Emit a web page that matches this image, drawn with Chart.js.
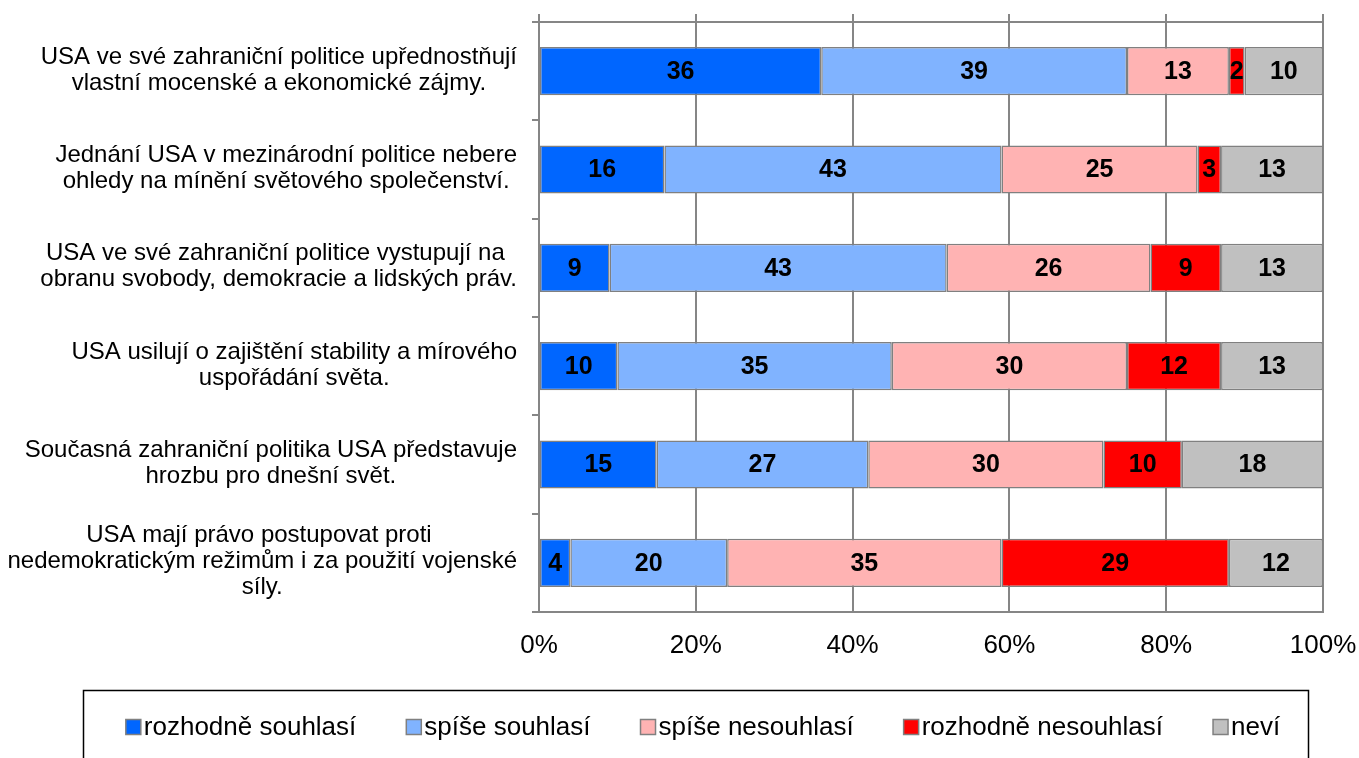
<!DOCTYPE html>
<html>
<head>
<meta charset="utf-8">
<script src="https://cdn.jsdelivr.net/npm/chart.js@4"></script>
<style>
  html, body { margin: 0; padding: 0; background: #fff; }
  canvas { display: block; }
</style>
</head>
<body>
<canvas id="chart" width="1359" height="758"></canvas>
<script>
// question texts, one array of lines per bar
const questions = [
  ["USA ve své zahraniční politice upřednostňují", "vlastní mocenské a ekonomické zájmy."],
  ["Jednání USA v mezinárodní politice nebere", "ohledy na mínění světového společenství."],
  ["USA ve své zahraniční politice vystupují na ", "obranu svobody, demokracie a lidských práv."],
  ["USA usilují o zajištění stability a mírového", "uspořádání světa."],
  ["Současná zahraniční politika USA představuje", "hrozbu pro dnešní svět."],
  ["USA mají právo postupovat proti ", "nedemokratickým režimům i za použití vojenské", "síly."]
];

const seriesNames = ["rozhodně souhlasí", "spíše souhlasí", "spíše nesouhlasí", "rozhodně nesouhlasí", "neví"];

const rozhodneSouhlasi = [36, 16, 9, 10, 15, 4];
const spiseSouhlasi = [39, 43, 43, 35, 27, 20];
const spiseNesouhlasi = [13, 25, 26, 30, 30, 35];
const rozhodneNesouhlasi = [2, 3, 9, 12, 10, 29];
const nevi = [10, 13, 13, 13, 18, 12];

const colors = ["#0066ff", "#80b3ff", "#ffb3b3", "#ff0000", "#c0c0c0"];

const FONT = '"Liberation Sans", Arial, sans-serif';
const lineColor = "#868686";

const series = [rozhodneSouhlasi, spiseSouhlasi, spiseNesouhlasi, rozhodneNesouhlasi, nevi];

const datasets = series.map((values, i) => ({
  label: seriesNames[i],
  data: values,
  backgroundColor: colors[i],
  borderColor: "#808080",
  borderWidth: 1.5,
  borderSkipped: false,
  barPercentage: 0.49,
  categoryPercentage: 1
}));

// question labels left of the bars, each block right-aligned, lines centred
const sideLabels = {
  id: "sideLabels",
  afterDraw(chart) {
    const ctx = chart.ctx;
    const yScale = chart.scales.y;
    ctx.save();
    ctx.font = "24px " + FONT;
    ctx.fillStyle = "#000";
    ctx.textAlign = "center";
    ctx.textBaseline = "middle";
    questions.forEach((lines, i) => {
      const y = yScale.getPixelForValue(i);
      const w = Math.max(...lines.map(l => ctx.measureText(l).width));
      const cx = 517 - w / 2;
      lines.forEach((line, j) => {
        ctx.fillText(line, cx, y - 1 + (j - (lines.length - 1) / 2) * 26);
      });
    });
    ctx.restore();
  }
};

// values in the middle of each segment
const valueLabels = {
  id: "valueLabels",
  afterDatasetsDraw(chart) {
    const ctx = chart.ctx;
    ctx.save();
    ctx.font = "bold 25px " + FONT;
    ctx.fillStyle = "#000";
    ctx.textAlign = "center";
    ctx.textBaseline = "middle";
    chart.data.datasets.forEach((ds, i) => {
      chart.getDatasetMeta(i).data.forEach((bar, j) => {
        const { x, y, base } = bar.getProps(["x", "y", "base"], true);
        ctx.fillText(String(ds.data[j]), (x + base) / 2, y + 1);
      });
    });
    ctx.restore();
  }
};

// framed legend at the bottom (box runs off the canvas like the original)
const boxLegend = {
  id: "boxLegend",
  afterDraw(chart) {
    const ctx = chart.ctx;
    ctx.save();
    ctx.strokeStyle = "#000";
    ctx.lineWidth = 1.5;
    ctx.strokeRect(83.5, 690.5, 1225, 100);

    ctx.font = "26px " + FONT;
    const items = chart.data.datasets.map(d => ({
      text: d.label,
      color: d.backgroundColor,
      w: ctx.measureText(d.label).width
    }));
    const box = 15, gapText = 3, gapItem = 50;
    const total = items.reduce((s, it) => s + box + gapText + it.w, 0) + gapItem * (items.length - 1);
    let x = 703 - total / 2;
    const y = 727;
    ctx.textAlign = "left";
    ctx.textBaseline = "middle";
    items.forEach(it => {
      ctx.fillStyle = it.color;
      ctx.fillRect(x, y - 7.5, box, box);
      ctx.strokeStyle = "#808080";
      ctx.lineWidth = 1.5;
      ctx.strokeRect(x, y - 7.5, box, box);
      ctx.fillStyle = "#000";
      ctx.fillText(it.text, x + box + gapText, y + 1);
      x += box + gapText + it.w + gapItem;
    });
    ctx.restore();
  }
};

new Chart(document.getElementById("chart"), {
  type: "bar",
  data: {
    labels: questions.map(q => q.join(" ")),
    datasets: datasets
  },
  options: {
    indexAxis: "y",
    responsive: false,
    animation: false,
    layout: { padding: { left: 0, right: 36, top: 14, bottom: 0 } },
    plugins: {
      legend: { display: false },
      tooltip: { enabled: false }
    },
    scales: {
      x: {
        stacked: true,
        min: 0,
        max: 100,
        ticks: {
          stepSize: 20,
          callback: v => v + "%",
          color: "#000",
          font: { family: FONT, size: 26 },
          padding: 18,
          maxRotation: 0
        },
        grid: { color: lineColor, lineWidth: 2, drawTicks: false },
        border: { color: lineColor, width: 2 },
        afterFit: s => {
          s.height = 146;
          s.paddingLeft = 0;
          s.paddingRight = 0;
        }
      },
      xTop: {
        type: "linear",
        position: "top",
        min: 0,
        max: 100,
        ticks: { display: false, stepSize: 20 },
        grid: { drawOnChartArea: false, tickLength: 8, color: lineColor, lineWidth: 2 },
        border: { color: lineColor, width: 2 },
        afterFit: s => {
          s.height = 8;
          s.paddingLeft = 0;
          s.paddingRight = 0;
        }
      },
      y: {
        stacked: true,
        ticks: { display: false },
        grid: { drawOnChartArea: false, offset: true, tickLength: 7, color: lineColor, lineWidth: 2 },
        border: { color: lineColor, width: 2 },
        afterFit: s => { s.width = 539; }
      }
    }
  },
  plugins: [sideLabels, valueLabels, boxLegend]
});
</script>
</body>
</html>
